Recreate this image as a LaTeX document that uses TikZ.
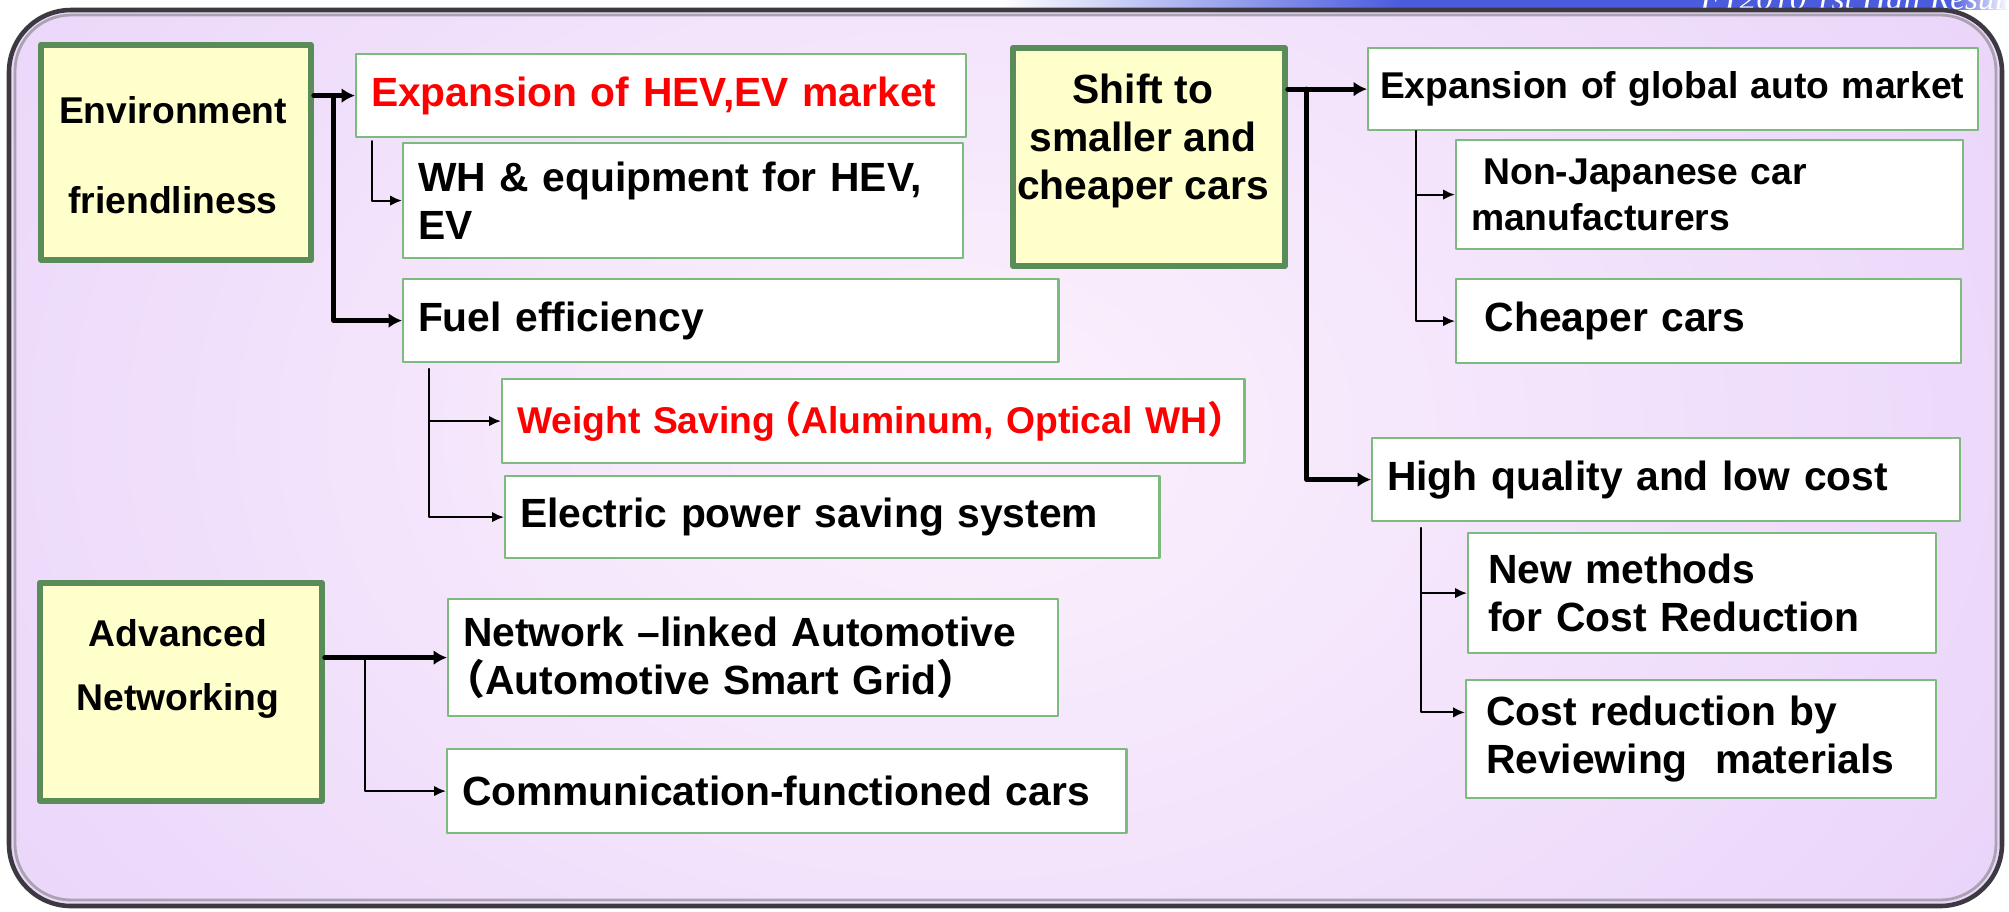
\documentclass[tikz,border=0pt]{standalone}
\usepackage{fontspec}
\setmainfont{Liberation Sans}
\newfontfamily\cjk{Noto Sans CJK SC}
\newfontfamily\headserif{Liberation Serif}
\usetikzlibrary{arrows.meta,calc}
\definecolor{lavender}{HTML}{EAD5FA}
\definecolor{glow}{HTML}{FCF2FD}
\definecolor{softyellow}{HTML}{FFFFCC}
\definecolor{boxgreen}{HTML}{5A8C5A}
\definecolor{linegreen}{HTML}{7DBA7D}
\definecolor{bandblue}{HTML}{4B5BDE}
\definecolor{framegray}{HTML}{3C3A40}
\tikzset{
    lab/.style={
        font=\fontsize{11.6}{13.6}\selectfont\bfseries
    },
    labsmall/.style={
        font=\fontsize{10.6}{13}\selectfont\bfseries
    },
    ybox/.style={draw=boxgreen, line width=1.6pt, fill=softyellow, anchor=north west, inner sep=0pt},
    wbox/.style={draw=linegreen, line width=0.6pt, fill=white, anchor=north west,
        inner xsep=0.15cm, inner ysep=0pt, align=left},
    fatarrow/.style={-{Latex[length=3.8pt,width=4.2pt]}, line width=1.4pt},
    thinarrow/.style={-{Latex[length=3.4pt,width=3pt]}, line width=0.6pt}
}

\begin{document}
\begin{tikzpicture}[x=0.01cm,y=-0.01cm, line cap=round, line join=round]

\useasboundingbox (0,0) rectangle (2009,911);
\fill[white] (0,0) rectangle (2009,911);

% header band, cut by the frame
\begin{scope}
  \clip (0,0) rectangle (2009,9);
  \shade[left color=white, right color=bandblue] (1000,0) rectangle (1400,9);
  \fill[bandblue] (1400,0) rectangle (1950,9);
  \shade[left color=bandblue, right color=white] (1950,0) rectangle (2009,9);
  \node[font=\headserif\itshape\fontsize{9.5}{11}\selectfont, text=white, anchor=base west, inner sep=0pt] (header) at (1700,9) {FY2010 1st Half Results};
\end{scope}

% frame
\begin{scope}
  \clip[rounded corners=0.62cm] (9,10) rectangle (2002,906);
  \fill[lavender] (9,10) rectangle (2002,906);
  \shade[inner color=glow, outer color=lavender] (960,430) ellipse (1200 and 850);
\end{scope}
\draw[framegray, line width=1.3pt, rounded corners=0.62cm] (9,10) rectangle (2002,906);
\draw[gray!60!lavender, line width=0.8pt, rounded corners=0.56cm] (15,15) rectangle (1996,900);

% yellow boxes
\node[ybox, minimum width=2.70cm, minimum height=2.15cm] (envir) at (38,42) {};
\node[labsmall, align=center] (envirlab) at (173,155) {Environment\\[12.5pt]friendliness};

\node[ybox, minimum width=2.72cm, minimum height=2.18cm] (shift) at (1010,45) {};
\node[lab, align=center] (shiftlab) at (1143,141) {Shift to\\smaller and\\cheaper cars};

\node[ybox, minimum width=2.82cm, minimum height=2.18cm] (advnet) at (37,580) {};
\node[labsmall, align=center] (advnetlab) at (178,669) {Advanced\\[5.4pt]Networking};

% left column
\node[wbox, lab, text=red, text width=5.80cm, minimum height=0.83cm] (hev) at (355,53) {Expansion of HEV,EV market};
\node[wbox, lab, text width=5.30cm, minimum height=1.15cm] (wh) at (402,142) {WH \& equipment for HEV,\\EV};
\node[wbox, lab, text width=6.25cm, minimum height=0.83cm] (fuel) at (402,278) {Fuel efficiency};
\node[wbox, labsmall, text=red, text width=7.12cm, minimum height=0.84cm] (weight) at (501,378) {\mbox{Weight Saving{\cjk\hspace{-0.3em}（}Aluminum, Optical WH{\cjk ）}}};
\node[wbox, lab, text width=6.24cm, minimum height=0.82cm] (power) at (504,475) {Electric power saving system};
\node[wbox, lab, text width=5.80cm, minimum height=1.17cm] (netlink) at (447,598) {Network –linked Automotive\\{\cjk\hspace*{-0.45em}（}Automotive Smart Grid{\cjk ）}};
\node[wbox, lab, text width=6.49cm, minimum height=0.84cm] (comm) at (446,748) {Communication-functioned cars};

% right column
\node[wbox, labsmall, inner xsep=0.12cm, text width=5.86cm, minimum height=0.82cm] (global) at (1367,47) {Expansion of global auto market};
\node[wbox, labsmall, text width=4.77cm, minimum height=1.09cm] (nonjp) at (1455,139) {\ Non-Japanese car\\manufacturers};
\node[wbox, lab, text width=4.75cm, minimum height=0.84cm] (cheap) at (1455,278) {\ Cheaper cars};
\node[wbox, lab, text width=5.58cm, minimum height=0.83cm] (quality) at (1371,437) {High quality and low cost};
\node[wbox, lab, inner xsep=0.2cm, text width=4.28cm, minimum height=1.20cm] (newmeth) at (1467,532) {New methods\\for Cost Reduction};
\node[wbox, lab, inner xsep=0.2cm, text width=4.30cm, minimum height=1.18cm] (costred) at (1465,679) {Cost reduction by\\Reviewing\ \ materials};

% forks
\coordinate (envfork) at ($(envir.east |- hev.west)+(20,0)$);
\coordinate (hevfork) at ($(hev.south west)+(17,3)$);
\coordinate (fuelfork) at ($(fuel.south west)+(27,6)$);
\coordinate (advfork) at ($(advnet.east |- netlink.west)+(40,0)$);
\coordinate (shiftfork) at ($(shift.east |- global.west)+(19,0)$);
\coordinate (globalfork) at ($(global.south west)+(49,0)$);
\coordinate (qualityfork) at ($(quality.south west)+(50,6)$);

% connectors
\draw[fatarrow] (envir.east |- hev.west) -- (hev.west);
\draw[fatarrow] (envfork) |- (fuel.west);
\draw[thinarrow] (hevfork) |- (wh.west);
\foreach \kid in {weight,power}
  \draw[thinarrow] (fuelfork) |- (\kid.west);

\draw[fatarrow] (advnet.east |- netlink.west) -- (netlink.west);
\draw[thinarrow] (advfork) |- (comm.west);

\draw[fatarrow] (shift.east |- global.west) -- (global.west);
\draw[fatarrow] (shiftfork) |- (quality.west);
\foreach \kid in {nonjp,cheap}
  \draw[thinarrow] (globalfork) |- (\kid.west);
\draw[thinarrow] (qualityfork) |- (newmeth.west);
\draw[thinarrow] (qualityfork) |- ([yshift=7.6pt]costred.west);

\end{tikzpicture}
\end{document}
